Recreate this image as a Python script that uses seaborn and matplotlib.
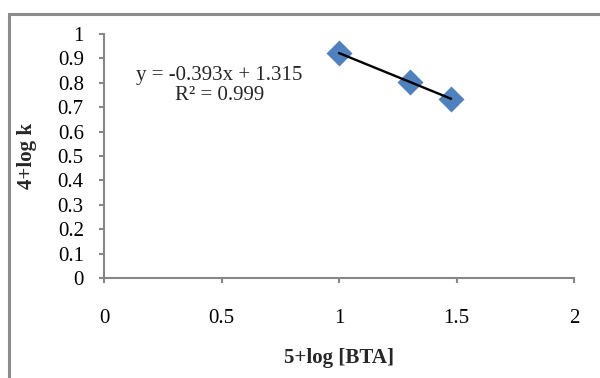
import numpy as np
import pandas as pd
import matplotlib
matplotlib.use("Agg")
import matplotlib.pyplot as plt
from matplotlib.patches import Rectangle
import seaborn as sns

# Data: 5+log[BTA] vs 4+log k
log_bta = [1.0, 1.301, 1.477]
log_k = [0.922, 0.804, 0.735]

# Linear trendline parameters
slope = -0.393
intercept = 1.315
r_squared = 0.999

x_ticks = [0, 0.5, 1, 1.5, 2]
x_tick_labels = ["0", "0.5", "1", "1.5", "2"]
y_ticks = [0, 0.1, 0.2, 0.3, 0.4, 0.5, 0.6, 0.7, 0.8, 0.9, 1]
y_tick_labels = ["0", "0.1", "0.2", "0.3", "0.4", "0.5", "0.6", "0.7", "0.8", "0.9", "1"]

df = pd.DataFrame({"x": log_bta, "y": log_k})

sns.set_theme(style="white")
plt.rcParams["font.family"] = ["Liberation Serif", "DejaVu Serif"]

W, H = 600, 378
fig = plt.figure(figsize=(W / 100, H / 100), dpi=100)
ax = fig.add_axes([104 / W, 1 - 278 / H, (574 - 104) / W, (278 - 34) / H])

grey = "#868686"
fs = 15

# Trendline through the data range
xs = np.array([min(log_bta), max(log_bta)])
ax.plot(xs, slope * xs + intercept, color="black", lw=1.7, zorder=3)

sns.scatterplot(data=df, x="x", y="y", ax=ax, marker="D", s=175,
                color="#4F81BD", edgecolor="#4F81BD", linewidth=0, zorder=2)

ax.set_xlim(0, 2)
ax.set_ylim(0, 1)
ax.set_xticks(x_ticks)
ax.set_xticklabels(x_tick_labels)
ax.set_yticks(y_ticks)
ax.set_yticklabels(y_tick_labels)

for side in ["top", "right"]:
    ax.spines[side].set_visible(False)
for side in ["left", "bottom"]:
    ax.spines[side].set_color(grey)
    ax.spines[side].set_linewidth(1.5)

ax.tick_params(axis="both", which="major", direction="out", color=grey,
               width=1.5, length=3.5, labelsize=fs, labelcolor="black",
               bottom=True, left=True)
ax.tick_params(axis="x", pad=19)
ax.tick_params(axis="y", pad=11)
ax.grid(False)

ax.set_xlabel("5+log [BTA]", fontsize=fs, fontweight="bold")
ax.xaxis.set_label_coords(0.5, -0.328)
ax.xaxis.label.set_va("center")
ax.set_ylabel("4+log k", fontsize=fs, fontweight="bold")
ax.yaxis.set_label_coords(-0.164, 0.5)
ax.yaxis.label.set_va("center")

ax.text(0.49, 0.79, f"y = {slope}x + {intercept}\nR² = {r_squared}",
        transform=ax.transData, ha="center", va="center", fontsize=fs,
        linespacing=1.1, multialignment="center")

# Outer chart frame
fig.patches.append(Rectangle((8.5 / W, -0.1), 1.2, 1 - 13.5 / H + 0.1,
                             transform=fig.transFigure, fill=False,
                             edgecolor="#8c8c8c", linewidth=2.2))

fig.savefig("out.png", dpi=100, facecolor="white")
